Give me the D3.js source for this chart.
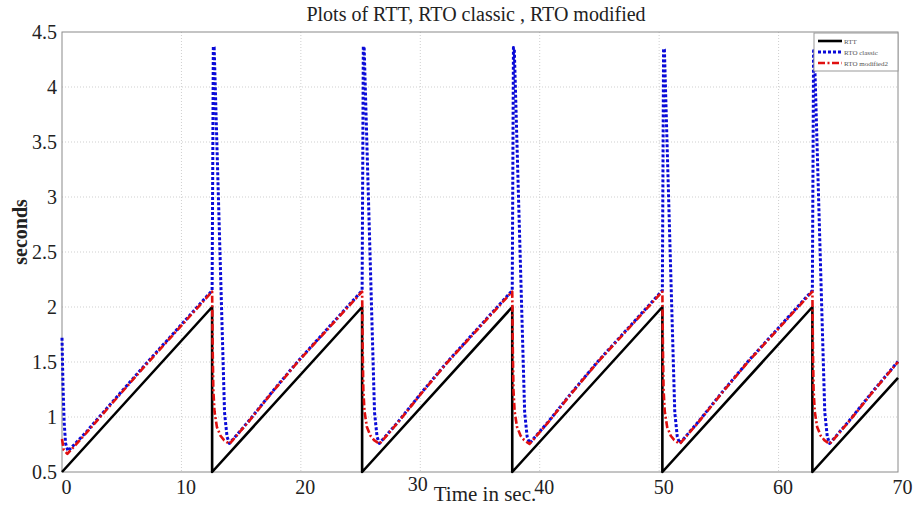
<!DOCTYPE html>
<html>
<head>
<meta charset="utf-8">
<script src="https://cdnjs.cloudflare.com/ajax/libs/d3/7.8.5/d3.min.js"></script>
<style>
  body { margin: 0; background: #fff; }
  text { font-family: "Liberation Serif", "Times New Roman", serif; }
</style>
</head>
<body>
<svg class="chart" width="916" height="506"></svg>
<script>
(function () {
    'use strict';

    // tick labels
    var xTicks = [0, 10, 20, 30, 40, 50, 60, 70];
    var yTicks = [0.5, 1, 1.5, 2, 2.5, 3, 3.5, 4, 4.5];

    // RTT (sawtooth)
    var rttTime = [0, 12.57, 12.57, 25.13, 25.13, 37.70, 37.70, 50.27, 50.27, 62.83, 62.83, 70];
    var rttValue = [0.5, 2.0, 0.5, 2.0, 0.5, 2.0, 0.5, 2.0, 0.5, 2.0, 0.5, 1.356];

    // RTO classic
    var classicTime = [0, 0.08, 0.18, 0.3, 0.5, 2, 4, 7,
        12.57, 12.67, 12.74, 13.02, 13.32, 13.61, 13.82, 14.02, 15.57, 17.57, 19.74,
        25.13, 25.23, 25.30, 25.58, 25.88, 26.17, 26.38, 26.58, 28.13, 30.13, 32.30,
        37.70, 37.80, 37.87, 38.15, 38.45, 38.74, 38.95, 39.15, 40.70, 42.70, 44.87,
        50.27, 50.37, 50.44, 50.72, 51.02, 51.31, 51.52, 51.72, 53.27, 55.27, 57.44,
        62.83, 62.93, 63.00, 63.28, 63.58, 63.87, 64.08, 64.28, 65.83, 67.83, 70];
    var classicValue = [1.72, 1.3, 0.95, 0.76, 0.69, 0.86, 1.11, 1.48,
        2.15, 4.37, 4.36, 3.29, 2.14, 1.04, 0.82, 0.76, 0.955, 1.225, 1.505,
        2.15, 4.37, 4.36, 3.29, 2.14, 1.04, 0.82, 0.76, 0.955, 1.225, 1.505,
        2.15, 4.36, 4.35, 3.28, 2.14, 1.04, 0.82, 0.76, 0.955, 1.225, 1.505,
        2.15, 4.35, 4.34, 3.27, 2.13, 1.04, 0.82, 0.76, 0.955, 1.225, 1.505,
        2.15, 4.33, 4.32, 3.26, 2.12, 1.04, 0.82, 0.76, 0.955, 1.225, 1.505];

    // RTO modified2
    var modTime = [0, 0.15, 0.45, 2, 4, 7,
        12.57, 12.62, 12.67, 12.77, 12.97, 13.27, 13.57, 14.02, 15.57, 17.57, 19.74,
        25.13, 25.18, 25.23, 25.33, 25.53, 25.83, 26.13, 26.58, 28.13, 30.13, 32.30,
        37.70, 37.75, 37.80, 37.90, 38.10, 38.40, 38.70, 39.15, 40.70, 42.70, 44.87,
        50.27, 50.32, 50.37, 50.47, 50.67, 50.97, 51.27, 51.72, 53.27, 55.27, 57.44,
        62.83, 62.88, 62.93, 63.03, 63.23, 63.53, 63.83, 64.28, 65.83, 67.83, 70];
    var modValue = [0.8, 0.7, 0.665, 0.85, 1.1, 1.47,
        2.14, 1.6, 1.25, 1.05, 0.91, 0.83, 0.79, 0.755, 0.95, 1.22, 1.5,
        2.14, 1.6, 1.25, 1.05, 0.91, 0.83, 0.79, 0.755, 0.95, 1.22, 1.5,
        2.14, 1.6, 1.25, 1.05, 0.91, 0.83, 0.79, 0.755, 0.95, 1.22, 1.5,
        2.14, 1.6, 1.25, 1.05, 0.91, 0.83, 0.79, 0.755, 0.95, 1.22, 1.5,
        2.14, 1.6, 1.25, 1.05, 0.91, 0.83, 0.79, 0.755, 0.95, 1.22, 1.5];

    var series = [
        {name: 'RTT', t: rttTime, v: rttValue, color: '#000', width: 2.6, dash: null},
        {name: 'RTO classic', t: classicTime, v: classicValue, color: '#0a0ad8', width: 3, dash: '3,2'},
        {name: 'RTO modified2', t: modTime, v: modValue, color: '#e01010', width: 2.6, dash: '7,2.5,2,2.5'}
    ];

    var left = 62, right = 898, top = 32, bottom = 472;
    var svg = d3.select('.chart');

    var x = d3.scaleLinear().domain([0, 70]).range([left, right]);
    var y = d3.scaleLinear().domain([0.5, 4.5]).range([bottom, top]);

    // grid
    svg.append('g').selectAll('line').data(xTicks.slice(1, -1)).enter().append('line')
        .attr('x1', function (d) { return x(d); }).attr('x2', function (d) { return x(d); })
        .attr('y1', top).attr('y2', bottom)
        .attr('stroke', '#cfcfcf').attr('stroke-width', 1).attr('stroke-dasharray', '1,2');
    svg.append('g').selectAll('line').data(yTicks.slice(1, -1)).enter().append('line')
        .attr('x1', left).attr('x2', right)
        .attr('y1', function (d) { return y(d); }).attr('y2', function (d) { return y(d); })
        .attr('stroke', '#cfcfcf').attr('stroke-width', 1).attr('stroke-dasharray', '1,2');

    // frame
    svg.append('rect').attr('x', left).attr('y', top)
        .attr('width', right - left).attr('height', bottom - top)
        .attr('fill', 'none').attr('stroke', '#8a8a8a').attr('stroke-width', 1);

    // axes
    var xAxis = d3.axisBottom(x).tickValues(xTicks).tickSize(0).tickPadding(8)
        .tickFormat(d3.format('d'));
    var yAxis = d3.axisLeft(y).tickValues(yTicks).tickSize(0).tickPadding(5)
        .tickFormat(function (d) { return String(d); });
    var gx = svg.append('g').attr('transform', 'translate(0,' + bottom + ')').call(xAxis);
    var gy = svg.append('g').attr('transform', 'translate(' + left + ',0)').call(yAxis);
    [gx, gy].forEach(function (g) {
        g.select('.domain').remove();
        g.selectAll('text').attr('font-size', 20).attr('fill', '#222')
            .attr('font-family', '"Liberation Serif", serif');
    });
    // the "30" label sits a bit up and left, next to the axis title
    gx.selectAll('text')
        .attr('dx', function (d) { return d === 30 ? -3 : 4; })
        .attr('y', function (d) { return d === 30 ? 5 : 8; });

    // lines
    var line = d3.line()
        .x(function (d) { return x(d[0]); })
        .y(function (d) { return y(d[1]); });

    series.forEach(function (s) {
        var pts = s.t.map(function (t, i) { return [t, s.v[i]]; });
        svg.append('path').datum(pts)
            .attr('d', line)
            .attr('fill', 'none')
            .attr('stroke', s.color)
            .attr('stroke-width', s.width)
            .attr('stroke-dasharray', s.dash)
            .attr('stroke-linejoin', 'round');
    });

    // titles
    svg.append('text').attr('x', 476).attr('y', 21).attr('text-anchor', 'middle')
        .attr('font-size', 20).attr('fill', '#222')
        .text('Plots of RTT, RTO classic , RTO modified');
    svg.append('text').attr('x', 485).attr('y', 501).attr('text-anchor', 'middle')
        .attr('font-size', 21).attr('fill', '#222')
        .text('Time in sec.');
    svg.append('text').attr('transform', 'translate(27,' + 232 + ') rotate(-90)')
        .attr('text-anchor', 'middle').attr('font-size', 20).attr('font-weight', 'bold')
        .attr('fill', '#222').text('seconds');

    // legend
    var lg = svg.append('g').attr('transform', 'translate(814,33)');
    lg.append('rect').attr('width', 84).attr('height', 38)
        .attr('fill', '#fff').attr('stroke', '#999').attr('stroke-width', 1);
    var items = lg.selectAll('g').data(series).enter().append('g')
        .attr('transform', function (d, i) { return 'translate(0,' + (8 + i * 11) + ')'; });
    items.append('line').attr('x1', 4).attr('x2', 28).attr('y1', 0).attr('y2', 0)
        .attr('stroke', function (d) { return d.color; })
        .attr('stroke-width', function (d) { return d.width; })
        .attr('stroke-dasharray', function (d) { return d.dash; });
    items.append('text').attr('x', 30).attr('y', 2.5)
        .attr('font-size', 7).attr('font-family', '"Liberation Sans", sans-serif')
        .attr('fill', '#555').text(function (d) { return d.name; });
})();
</script>
</body>
</html>
